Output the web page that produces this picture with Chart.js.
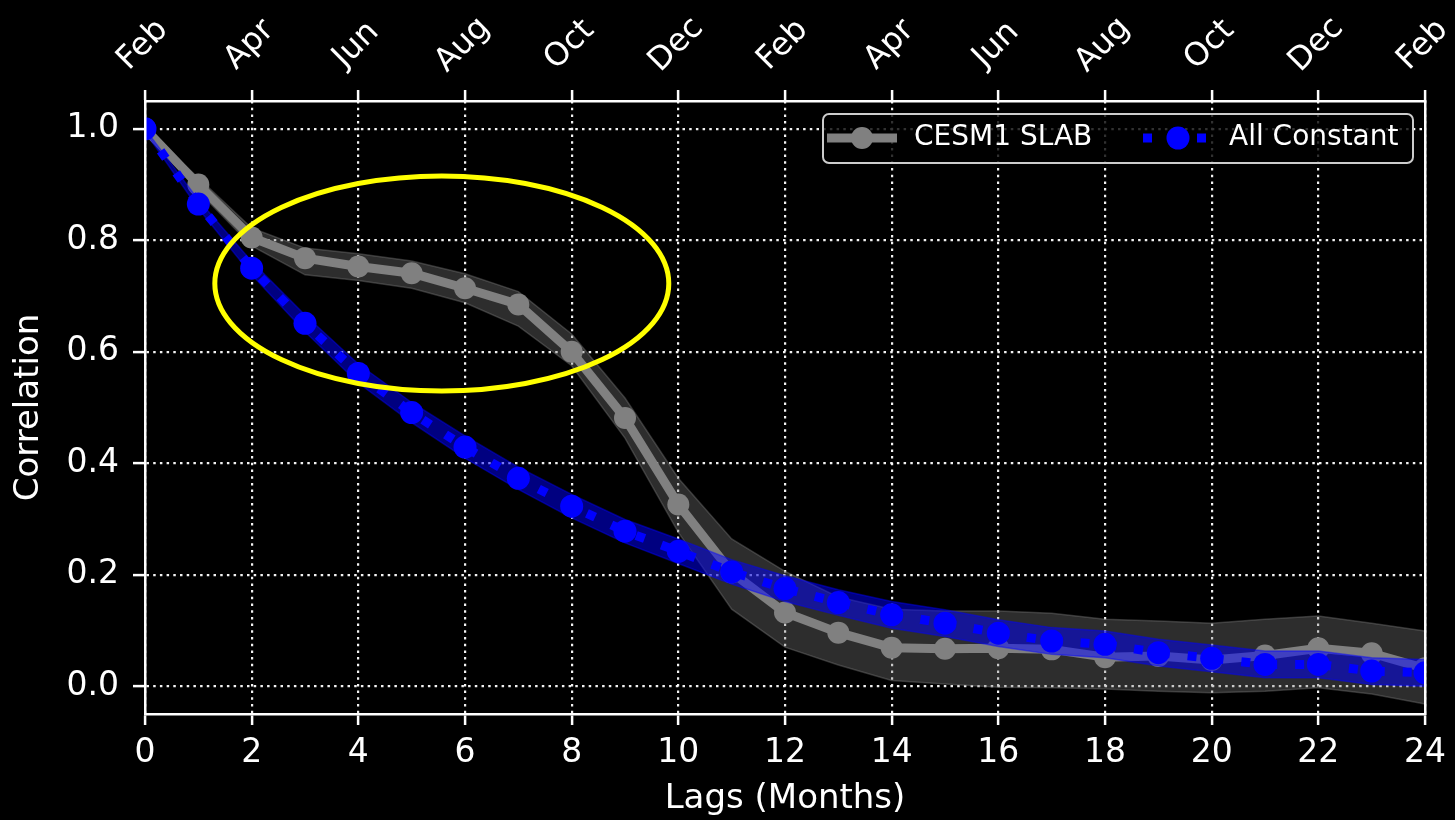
<!DOCTYPE html>
<html>
<head>
<meta charset="utf-8">
<script src="https://cdn.jsdelivr.net/npm/chart.js@4.4.1/dist/chart.umd.min.js"></script>
<style>
  html, body { margin: 0; padding: 0; background: #000; }
  canvas { display: block; }
</style>
</head>
<body>
<canvas id="c" width="1455" height="820"></canvas>
<script>
// Lag axis (months) and its tick marks
const lags = [0, 1, 2, 3, 4, 5, 6, 7, 8, 9, 10, 11, 12, 13, 14, 15, 16, 17, 18, 19, 20, 21, 22, 23, 24];
const xTicks = [0, 2, 4, 6, 8, 10, 12, 14, 16, 18, 20, 22, 24];
const monthLabels = ['Feb', 'Apr', 'Jun', 'Aug', 'Oct', 'Dec', 'Feb', 'Apr', 'Jun', 'Aug', 'Oct', 'Dec', 'Feb'];
const yTicks = [0.0, 0.2, 0.4, 0.6, 0.8, 1.0];
const seriesNames = ['CESM1 SLAB', 'All Constant'];

// CESM1 SLAB autocorrelation with its spread
const slabMean  = [1.0, 0.900, 0.805, 0.768, 0.753, 0.741, 0.714, 0.685, 0.600, 0.481, 0.326, 0.204, 0.132, 0.096, 0.069, 0.067, 0.068, 0.066, 0.052, 0.054, 0.047, 0.055, 0.068, 0.059, 0.032];
const slabLower = [0.995, 0.888, 0.790, 0.738, 0.728, 0.714, 0.688, 0.646, 0.575, 0.445, 0.276, 0.138, 0.070, 0.038, 0.010, 0.004, -0.002, -0.003, -0.005, -0.009, -0.012, -0.009, -0.003, -0.014, -0.032];
const slabUpper = [1.0, 0.912, 0.822, 0.786, 0.776, 0.763, 0.740, 0.708, 0.632, 0.517, 0.373, 0.264, 0.206, 0.160, 0.138, 0.135, 0.135, 0.131, 0.120, 0.117, 0.113, 0.120, 0.126, 0.113, 0.099];

// Stochastic model with all parameters held constant
const constMean  = [1.0, 0.865, 0.750, 0.651, 0.561, 0.491, 0.429, 0.373, 0.323, 0.278, 0.242, 0.205, 0.175, 0.150, 0.128, 0.113, 0.095, 0.081, 0.075, 0.060, 0.050, 0.039, 0.039, 0.027, 0.024];
const constLower = [0.995, 0.857, 0.738, 0.636, 0.544, 0.473, 0.409, 0.353, 0.302, 0.257, 0.220, 0.183, 0.152, 0.127, 0.104, 0.089, 0.071, 0.057, 0.051, 0.036, 0.026, 0.015, 0.015, 0.003, 0.000];
const constUpper = [1.0, 0.873, 0.762, 0.666, 0.578, 0.509, 0.449, 0.393, 0.344, 0.299, 0.264, 0.227, 0.198, 0.173, 0.152, 0.137, 0.119, 0.105, 0.099, 0.084, 0.074, 0.063, 0.063, 0.051, 0.048];

const GRAY = '#808080';
const BLUE = '#0000ff';
const FONT = '"DejaVu Sans", "Liberation Sans", sans-serif';

Chart.defaults.font.family = FONT;
Chart.defaults.color = '#ffffff';

const points = arr => lags.map((x, i) => ({ x, y: arr[i] }));

const bandEdge = (data, color, order, fill, fillColor) => ({
  label: '', data: points(data), borderColor: color, borderWidth: 1.5,
  pointRadius: 0, tension: 0, fill: fill, backgroundColor: fillColor || 'transparent',
  order: order, clip: 0
});

const pixelTicks = values => axis => { axis.ticks = values.map(v => ({ value: v })); };

const spine = { display: true, color: '#ffffff', width: 2.5, dash: [2.5, 4.2], z: 1 };
const gridStyle = { color: 'rgba(255,255,255,0.95)', lineWidth: 2.2, tickColor: '#ffffff', tickWidth: 2.5 };

// Yellow outline marking lags 2-8 (drawn in data units)
const highlight = { cx: 5.565, cy: 0.7226, rx: 4.256, ry: 0.193 };

const decor = {
  id: 'decor',
  beforeDraw(chart) {
    const ctx = chart.ctx;
    ctx.save();
    ctx.fillStyle = '#000';
    ctx.fillRect(0, 0, chart.width, chart.height);
    ctx.restore();
  },
  afterDraw(chart) {
    const { ctx, scales, chartArea } = chart;

    // month names along the top axis, rotated 45 degrees
    const top = scales.xTop;
    ctx.save();
    ctx.font = '32px ' + FONT;
    ctx.fillStyle = '#ffffff';
    ctx.textAlign = 'center';
    ctx.textBaseline = 'middle';
    xTicks.forEach((v, i) => {
      const px = top.getPixelForValue(v);
      ctx.save();
      ctx.translate(px - 2, top.bottom - 56);
      ctx.rotate(-Math.PI / 4);
      ctx.fillText(monthLabels[i], 0, 0);
      ctx.restore();
    });
    ctx.restore();

    // highlight ellipse
    const xs = scales.x, ys = scales.y;
    const cx = xs.getPixelForValue(highlight.cx);
    const cy = ys.getPixelForValue(highlight.cy);
    const rx = xs.getPixelForValue(highlight.cx + highlight.rx) - cx;
    const ry = cy - ys.getPixelForValue(highlight.cy + highlight.ry);
    ctx.save();
    ctx.beginPath();
    ctx.ellipse(cx, cy, rx, ry, 0, 0, Math.PI * 2);
    ctx.strokeStyle = '#ffff00';
    ctx.lineWidth = 5;
    ctx.stroke();
    ctx.restore();

    // legend box
    const w = 590, h = 49;
    const left = chartArea.right - 12 - w;
    const tp = chartArea.top + 13;
    const r = 6;
    ctx.save();
    ctx.beginPath();
    ctx.moveTo(left + r, tp);
    ctx.lineTo(left + w - r, tp);
    ctx.arcTo(left + w, tp, left + w, tp + r, r);
    ctx.lineTo(left + w, tp + h - r);
    ctx.arcTo(left + w, tp + h, left + w - r, tp + h, r);
    ctx.lineTo(left + r, tp + h);
    ctx.arcTo(left, tp + h, left, tp + h - r, r);
    ctx.lineTo(left, tp + r);
    ctx.arcTo(left, tp, left + r, tp, r);
    ctx.closePath();
    ctx.fillStyle = 'rgba(0,0,0,0.8)';
    ctx.fill();
    ctx.strokeStyle = '#cccccc';
    ctx.lineWidth = 2;
    ctx.stroke();

    const midY = tp + 24;
    const entries = [
      { ds: chart.data.datasets[2], x0: left + 4, textX: left + 91 },
      { ds: chart.data.datasets[5], x0: left + 320, textX: left + 406 }
    ];
    entries.forEach(e => {
      ctx.save();
      ctx.beginPath();
      ctx.rect(e.x0, midY - 20, 70, 40);
      ctx.clip();
      ctx.beginPath();
      ctx.strokeStyle = e.ds.borderColor;
      ctx.lineWidth = e.ds.borderWidth;
      ctx.lineCap = 'butt';
      ctx.setLineDash(e.ds.borderDash || []);
      ctx.moveTo(e.x0, midY);
      ctx.lineTo(e.x0 + 70, midY);
      ctx.stroke();
      ctx.restore();
      ctx.beginPath();
      ctx.arc(e.x0 + 35, midY, e.ds.pointRadius, 0, Math.PI * 2);
      ctx.fillStyle = e.ds.pointBackgroundColor;
      ctx.fill();
      ctx.font = '28px ' + FONT;
      ctx.fillStyle = '#ffffff';
      ctx.textAlign = 'left';
      ctx.textBaseline = 'middle';
      ctx.fillText(e.ds.label, e.textX, midY);
    });
    ctx.restore();
  }
};

new Chart(document.getElementById('c'), {
  type: 'line',
  data: {
    datasets: [
      bandEdge(slabLower, 'rgba(128,128,128,0.38)', 5, false),
      bandEdge(slabUpper, 'rgba(128,128,128,0.38)', 4, '-1', 'rgba(128,128,128,0.35)'),
      {
        label: seriesNames[0], data: points(slabMean), borderColor: GRAY, borderWidth: 9,
        borderJoinStyle: 'round', pointRadius: 11, pointHoverRadius: 11, pointBackgroundColor: GRAY,
        pointBorderWidth: 0, tension: 0, fill: false, order: 3, clip: 0
      },
      bandEdge(constLower, 'rgba(0,0,255,0.45)', 2, false),
      bandEdge(constUpper, 'rgba(0,0,255,0.45)', 1, '-1', 'rgba(0,0,255,0.5)'),
      {
        label: seriesNames[1], data: points(constMean), borderColor: BLUE, borderWidth: 9,
        borderDash: [9, 18], borderCapStyle: 'butt', pointRadius: 11.5, pointHoverRadius: 11.5,
        pointBackgroundColor: BLUE, pointBorderWidth: 0, tension: 0, fill: false, order: 0, clip: 0
      }
    ]
  },
  options: {
    responsive: false,
    animation: false,
    events: [],
    layout: { padding: { left: 0, right: 27, top: 0, bottom: 0 } },
    plugins: { legend: { display: false }, tooltip: { enabled: false } },
    scales: {
      x: {
        type: 'linear', position: 'bottom', min: 0, max: 24,
        afterBuildTicks: pixelTicks(xTicks),
        afterFit: axis => { axis.height = 106; },
        ticks: { font: { size: 33 }, color: '#ffffff', padding: 9, maxRotation: 0, autoSkip: false,
                 callback: v => String(v) },
        grid: Object.assign({ tickLength: 11 }, gridStyle),
        border: spine,
        title: { display: true, text: 'Lags (Months)', font: { size: 34 }, color: '#ffffff',
                 padding: { top: 0, bottom: 0 } }
      },
      xTop: {
        type: 'linear', position: 'top', min: 0, max: 24,
        afterBuildTicks: pixelTicks(xTicks),
        afterFit: axis => { axis.height = 101; },
        ticks: { display: false },
        grid: Object.assign({ tickLength: 11, drawOnChartArea: false }, gridStyle),
        border: spine
      },
      y: {
        type: 'linear', position: 'left', min: -0.05, max: 1.05,
        afterBuildTicks: pixelTicks(yTicks),
        afterFit: axis => { axis.width = 145; },
        ticks: { font: { size: 33 }, color: '#ffffff', padding: 14, callback: v => v.toFixed(1) },
        grid: Object.assign({ tickLength: 12 }, gridStyle),
        border: spine,
        title: { display: true, text: 'Correlation', font: { size: 34 }, color: '#ffffff',
                 padding: { top: 9, bottom: 0 } }
      },
      yRight: {
        type: 'linear', position: 'right', min: -0.05, max: 1.05,
        afterFit: axis => { axis.width = 0; },
        ticks: { display: false },
        grid: { display: false, drawTicks: false },
        border: spine
      }
    }
  },
  plugins: [decor]
});
</script>
</body>
</html>
